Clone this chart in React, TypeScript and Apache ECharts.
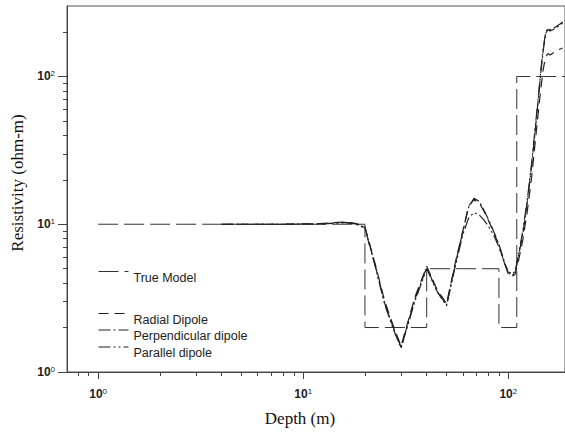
import React, { useEffect, useRef } from 'react';
import * as echarts from 'echarts';

// Axis ticks
const xMinorTicks = [0.8, 0.9, 2, 3, 4, 5, 6, 7, 8, 9, 20, 30, 40, 50, 60, 70, 80, 90];
const xMajorTicks = [1, 10, 100];
const yMinorTicks = [2, 3, 4, 5, 6, 7, 8, 9, 20, 30, 40, 50, 60, 70, 80, 90, 200];
const yMajorTicks = [1, 10, 100];

// Series names
const seriesNames = ['True Model', 'Radial Dipole', 'Perpendicular dipole', 'Parallel dipole'];

// True model (layered)
const trueModelDepth = [1, 20, 20, 40, 40, 90, 90, 110, 110, 200];
const trueModelRes = [10, 10, 2, 2, 5, 5, 2, 2, 100, 100];

// Modelled responses
const curveDepth = [4, 8, 12, 14, 16, 18, 20, 22.5, 25, 27.5, 30, 35, 40, 45, 50, 55, 60, 64, 68, 72, 76, 80, 85, 90, 96, 100, 104, 108, 112, 118, 124, 130, 135, 140, 144, 148, 152, 156, 160, 166, 172, 178, 184];
const radialRes = [10, 10, 10.1, 10.25, 10.35, 10.15, 9.6, 5.3, 3.0, 2.05, 1.5, 3.2, 5.2, 3.6, 2.9, 5.4, 9.0, 13.3, 14.6, 14.0, 12.3, 10.6, 8.8, 7.2, 5.4, 4.6, 4.4, 4.6, 5.6, 8.0, 12.5, 21, 35, 57, 82, 112, 135, 143, 140, 145, 150, 153, 156];
const perpendicularRes = [10, 10, 10.05, 10.2, 10.3, 10.1, 9.5, 5.2, 2.9, 2.0, 1.47, 3.1, 5.1, 3.5, 2.85, 5.3, 8.9, 13, 15, 14.3, 12.5, 10.8, 8.9, 7.3, 5.5, 4.7, 4.5, 4.7, 6.0, 8.8, 14.5, 25, 42, 70, 105, 150, 195, 208, 203, 208, 215, 222, 230];
const parallelRes = [10, 10, 10.05, 10.15, 10.25, 10.05, 9.4, 5.1, 2.85, 1.95, 1.45, 3.0, 5.0, 3.5, 2.8, 5.1, 8.5, 11, 12, 11.6, 10.7, 9.7, 8.4, 7.0, 5.4, 4.8, 4.6, 4.8, 6.2, 9.2, 15, 26, 44, 72, 110, 155, 198, 212, 207, 212, 219, 226, 234];

const pairs = (xs: number[], ys: number[]) => xs.map((x, i) => [x, ys[i]]);

const supFormatter = (v: number) => {
  const e = Math.round(Math.log10(v));
  return `{b|10}{s|${e}}`;
};
const labelRich = {
  b: { fontFamily: 'Liberation Sans', fontSize: 12, fontWeight: 'bold', color: '#222', lineHeight: 14 },
  s: { fontFamily: 'Liberation Sans', fontSize: 8, color: '#222', lineHeight: 8, verticalAlign: 'top' },
};

export default function App() {
  const ref = useRef<HTMLDivElement>(null);
  useEffect(() => {
    const chart = echarts.init(ref.current!, null, { renderer: 'svg' });
    const X_MIN = 0.705;
    const X_MAX = 189;
    const Y_MIN = 1;
    const Y_MAX = 300;
    const axisLineStyle = { color: '#444', width: 1 };
    const dashes: number[][] = [[20, 6], [10, 6], [12, 3, 2, 3], [12, 3, 2, 3, 2, 3]];
    const widths = [1, 1.2, 1.2, 1.2];
    const colors = ['#333', '#222', '#222', '#222'];
    const legendTops = [259, 301, 317.5, 334.5];
    const legends = seriesNames.map((n, i) => ({
      data: [n],
      left: 98,
      top: legendTops[i],
      orient: 'vertical',
      padding: 0,
      itemWidth: 30,
      itemHeight: 14,
      itemGap: 0,
      selectedMode: false,
      formatter: (name: string) => '\n' + name,
      itemStyle: { opacity: 0 },
      lineStyle: { type: dashes[i], width: 1, color: colors[i] },
      textStyle: {
        fontFamily: 'Liberation Sans',
        fontSize: 12.5,
        color: '#222',
        lineHeight: 12,
      },
    }));
    chart.setOption({
      animation: false,
      backgroundColor: '#fff',
      grid: {
        left: 67,
        right: -2,
        top: 6,
        bottom: 59,
        show: true,
        borderColor: '#555',
        borderWidth: 1,
      },
      legend: legends,
      xAxis: [
        {
          type: 'log',
          logBase: 10,
          min: X_MIN,
          max: X_MAX,
          position: 'bottom',
          axisLine: { show: true, lineStyle: axisLineStyle },
          axisTick: { show: true, length: 4, customValues: xMinorTicks, lineStyle: axisLineStyle },
          axisLabel: { show: false },
          splitLine: { show: false },
        },
        {
          type: 'log',
          logBase: 10,
          min: X_MIN,
          max: X_MAX,
          position: 'bottom',
          axisLine: { show: true, lineStyle: axisLineStyle },
          axisTick: { show: true, length: 7, customValues: xMajorTicks, lineStyle: axisLineStyle },
          axisLabel: {
            show: true,
            customValues: xMajorTicks,
            formatter: supFormatter,
            rich: labelRich,
            margin: 15,
          },
          splitLine: { show: false },
          name: 'Depth (m)',
          nameLocation: 'middle',
          nameGap: 38,
          nameTextStyle: {
            fontFamily: 'Liberation Serif',
            fontSize: 17,
            color: '#111',
            padding: [0, 32, 0, 0],
          },
        },
      ],
      yAxis: [
        {
          type: 'log',
          logBase: 10,
          min: Y_MIN,
          max: Y_MAX,
          position: 'left',
          axisLine: { show: true, lineStyle: axisLineStyle },
          axisTick: { show: true, length: 4, customValues: yMinorTicks, lineStyle: axisLineStyle },
          axisLabel: { show: false },
          splitLine: { show: false },
        },
        {
          type: 'log',
          logBase: 10,
          min: Y_MIN,
          max: Y_MAX,
          position: 'left',
          axisLine: { show: true, lineStyle: axisLineStyle },
          axisTick: { show: true, length: 9, customValues: yMajorTicks, lineStyle: axisLineStyle },
          axisLabel: {
            show: true,
            customValues: yMajorTicks,
            formatter: supFormatter,
            rich: labelRich,
            margin: 12,
          },
          splitLine: { show: false },
          name: 'Resistivity (ohm-m)',
          nameLocation: 'middle',
          nameGap: 36,
          nameTextStyle: {
            fontFamily: 'Liberation Serif',
            fontSize: 17,
            color: '#111',
            padding: [0, 0, 0, 12],
          },
        },
      ],
      series: [
        {
          name: seriesNames[0],
          type: 'line',
          symbol: 'none',
          data: pairs(trueModelDepth, trueModelRes),
          color: colors[0],
          lineStyle: { color: colors[0], width: widths[0], type: dashes[0] },
        },
        {
          name: seriesNames[1],
          type: 'line',
          symbol: 'none',
          data: pairs(curveDepth, radialRes),
          color: colors[1],
          lineStyle: { color: colors[1], width: widths[1], type: dashes[1] },
        },
        {
          name: seriesNames[2],
          type: 'line',
          symbol: 'none',
          data: pairs(curveDepth, perpendicularRes),
          color: colors[2],
          lineStyle: { color: colors[2], width: widths[2], type: dashes[2] },
        },
        {
          name: seriesNames[3],
          type: 'line',
          symbol: 'none',
          data: pairs(curveDepth, parallelRes),
          color: colors[3],
          lineStyle: { color: colors[3], width: widths[3], type: dashes[3] },
        },
      ],
    });
    return () => chart.dispose();
  }, []);
  return (
    <div
      ref={ref}
      style={{ position: 'fixed', left: 0, top: 0, width: 565, height: 432, background: '#fff' }}
    />
  );
}
